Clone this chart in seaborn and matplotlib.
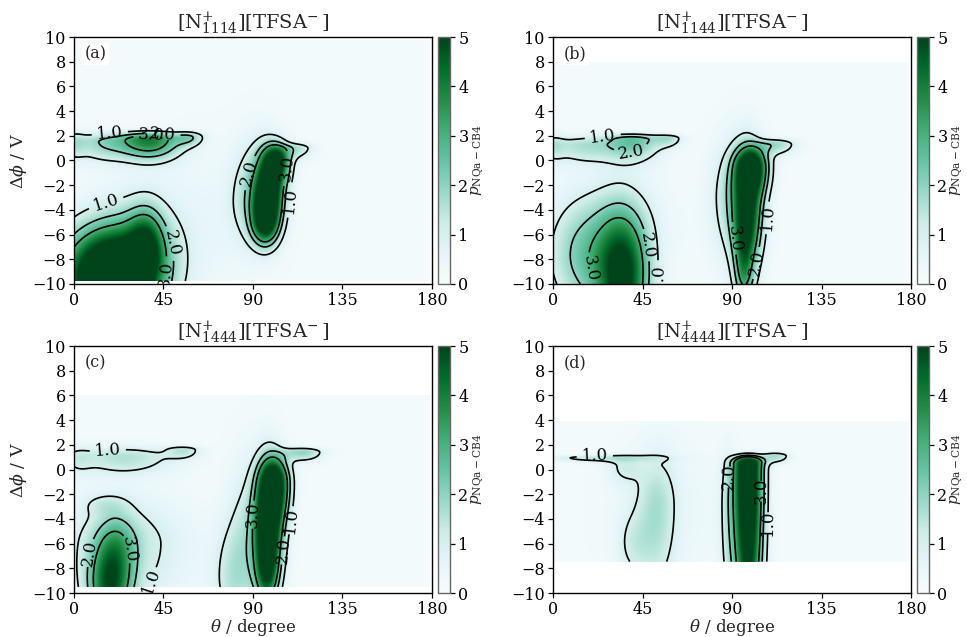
import numpy as np
import matplotlib
matplotlib.use("Agg")
import matplotlib.pyplot as plt
import seaborn as sns

# Panel titles / letters
TITLES = [r"[N$^{+}_{1114}$][TFSA$^{-}\,$]", r"[N$^{+}_{1144}$][TFSA$^{-}\,$]",
          r"[N$^{+}_{1444}$][TFSA$^{-}\,$]", r"[N$^{+}_{4444}$][TFSA$^{-}\,$]"]
LETTERS = ["(a)", "(b)", "(c)", "(d)"]

# Δφ range covered by the sampled data in each panel (V)
PHI_LO = [-9.75, -10.0, -9.5, -7.45]
PHI_HI = [9.75, 7.9, 6.0, 3.9]
BACKGROUND = [0.15, 0.15, 0.15, 0.12]

# density blobs: centre theta, centre phi,
# theta width, phi width below / above centre, peak height
A_TH = [38, 14, 0, 58, 96, 98, 102, 112, 91, 18, 36, 35, 65]
A_PH = [1.7, 1.5, 1.5, 1.9, -5.0, -2.5, 0.0, 1.0, -3.0, -9.5, -7.0, -7.0, -5.0]
A_STH = [11, 10, 4, 5, 4.5, 5, 4.5, 6, 8, 16, 6, 14, 20]
A_SPD = [1.1, 1.1, 1.0, 0.5, 1.2, 2.0, 1.2, 0.6, 2.5, 2.0, 2.0, 3.0, 4.0]
A_SPU = [0.4, 0.5, 0.6, 0.3, 1.5, 2.0, 0.9, 0.3, 3.0, 2.7, 2.0, 3.0, 4.0]
A_AMP = [3.8, 1.6, 1.0, 1.4, 4.0, 5.5, 4.5, 1.3, 1.6, 8.0, 3.0, 1.1, 0.3]

B_TH = [40, 15, 0, 58, 35, 15, 30, 96, 98, 100, 112, 91]
B_PH = [1.7, 1.2, 1.3, 1.8, -9.5, -8.0, -5.0, -9.0, -4.0, -0.5, 1.3, -3.0]
B_STH = [10, 12, 4, 5, 9, 12, 18, 3.5, 5, 5.5, 7, 8]
B_SPD = [1.2, 1.0, 1.0, 0.5, 3.5, 3.0, 3.0, 2.0, 3.0, 1.5, 0.6, 3.5]
B_SPU = [0.3, 0.5, 0.6, 0.2, 3.5, 3.0, 2.5, 3.0, 3.0, 1.0, 0.3, 3.0]
B_AMP = [2.3, 1.4, 0.8, 1.2, 5.0, 1.8, 0.7, 2.5, 4.5, 5.0, 1.6, 1.5]

C_TH = [25, 2, 55, 17, 22, 25, 15, 80, 97, 98, 101, 115, 87]
C_PH = [1.0, 1.0, 1.6, -9.5, -6.5, -6.0, -2.8, -9.0, -8.0, -4.0, -1.0, 1.4, -5.0]
C_STH = [18, 5, 6, 7, 7, 22, 8, 7, 4, 5, 5, 7, 7]
C_SPD = [1.0, 1.0, 0.5, 2.0, 3.0, 4.0, 0.6, 2.0, 2.0, 3.0, 2.0, 0.5, 4.0]
C_SPU = [0.6, 0.6, 0.2, 2.5, 2.0, 2.5, 0.6, 3.0, 3.0, 3.0, 1.3, 0.25, 4.0]
C_AMP = [1.4, 0.6, 1.2, 3.3, 1.6, 1.2, 0.6, 1.1, 4.0, 5.0, 5.0, 1.8, 1.0]

D_TH = [25, 52, 40, 36, 98, 112, 88, 60]
D_PH = [0.95, -3.0, -6.0, 0.2, 0.5, 1.1, -3.0, -3.0]
D_STH = [20, 7, 6, 6, 5, 5, 3, 25]
D_SPD = [0.25, 5.0, 2.0, 1.0, 10.0, 0.4, 6.0, 5.0]
D_SPU = [0.15, 3.0, 2.0, 0.6, 0.4, 0.2, 3.0, 4.0]
D_AMP = [1.2, 1.3, 0.8, 0.9, 7.0, 1.5, 0.8, 0.3]

BLOBS = [(A_TH, A_PH, A_STH, A_SPD, A_SPU, A_AMP),
         (B_TH, B_PH, B_STH, B_SPD, B_SPU, B_AMP),
         (C_TH, C_PH, C_STH, C_SPD, C_SPU, C_AMP),
         (D_TH, D_PH, D_STH, D_SPD, D_SPU, D_AMP)]

THETA_MAX = 179.0


def density(blobs, lo, hi, bg):
    theta = np.arange(0, THETA_MAX + 0.01, 0.5)
    phi = np.arange(lo, hi + 0.001, 0.05)
    T, P = np.meshgrid(theta, phi)
    Z = np.full(T.shape, bg)
    for th, ph, sth, spd, spu, amp in zip(*blobs):
        sp = np.where(P < ph, spd, spu)
        Z += amp * np.exp(-0.5 * ((T - th) / sth) ** 2 - 0.5 * ((P - ph) / sp) ** 2)
    return T, P, Z


sns.set_theme(style="ticks")
plt.rcParams["font.family"] = ["DejaVu Serif"]
plt.rcParams["mathtext.fontset"] = "dejavuserif"
plt.rcParams["font.size"] = 11
plt.rcParams["xtick.labelsize"] = 11.5
plt.rcParams["ytick.labelsize"] = 11.5
plt.rcParams["axes.labelsize"] = 12.5
plt.rcParams["axes.edgecolor"] = "black"
plt.rcParams["axes.linewidth"] = 1.0
plt.rcParams["xtick.color"] = "black"
plt.rcParams["ytick.color"] = "black"
plt.rcParams["xtick.major.size"] = 3.5
plt.rcParams["ytick.major.size"] = 3.5
plt.rcParams["xtick.major.width"] = 0.9
plt.rcParams["ytick.major.width"] = 0.9
plt.rcParams["xtick.major.pad"] = 2.5
plt.rcParams["ytick.major.pad"] = 2.5

cmap = sns.color_palette("BuGn", as_cmap=True)

fig = plt.figure(figsize=(9.67, 6.37), dpi=100)
ax_boxes = [(0.0765, 0.5542), (0.5719, 0.5542), (0.0765, 0.0690), (0.5719, 0.0690)]
w, h = 0.3702, 0.3877

for i in range(4):
    x0, y0 = ax_boxes[i]
    ax = fig.add_axes([x0, y0, w, h])
    cax = fig.add_axes([x0 + w + 0.0062, y0, 0.0124, h])

    T, P, Z = density(BLOBS[i], PHI_LO[i], PHI_HI[i], BACKGROUND[i])
    im = ax.imshow(Z, origin="lower", aspect="auto", cmap=cmap, vmin=0, vmax=5,
                   extent=[0, THETA_MAX, PHI_LO[i], PHI_HI[i]], interpolation="bilinear")
    cs = ax.contour(T, P, Z, levels=[1.0, 2.0, 3.0], colors="black", linewidths=1.2)
    ax.clabel(cs, fmt="%.1f", fontsize=12, inline=True)

    ax.set_xlim(0, 180)
    ax.set_ylim(-10, 10)
    ax.set_xticks([0, 45, 90, 135, 180])
    ax.set_yticks(range(-10, 11, 2))
    ax.set_title(TITLES[i], fontsize=14, pad=3)
    ax.text(0.03, 0.965, LETTERS[i], transform=ax.transAxes, ha="left", va="top",
            fontsize=11.5, bbox=dict(facecolor="white", edgecolor="none", pad=2))
    if i % 2 == 0:
        ax.set_ylabel(r"$\Delta\phi$ / V", labelpad=2)
    if i >= 2:
        ax.set_xlabel(r"$\theta$ / degree", fontsize=12, labelpad=-1)

    cb = fig.colorbar(im, cax=cax, ticks=range(6))
    cb.set_label(r"$p_{\mathrm{NQa-CB4}}$", fontsize=11)
    cb.ax.yaxis.set_label_coords(2.55, 0.5)
    cb.outline.set_edgecolor("0.4")

fig.savefig("out.png", dpi=100)
